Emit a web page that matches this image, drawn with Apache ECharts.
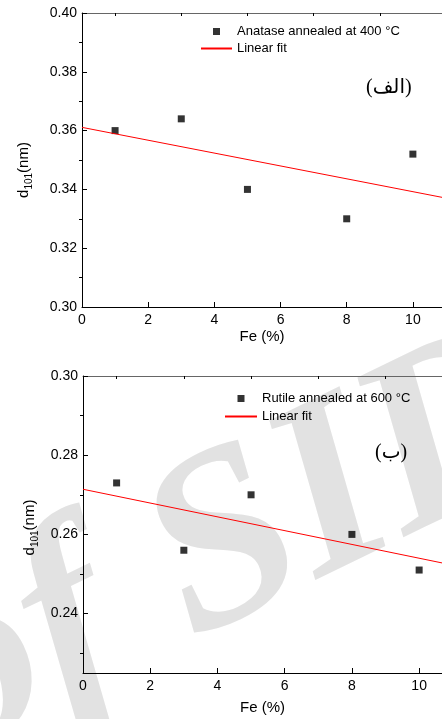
<!DOCTYPE html>
<html>
<head>
<meta charset="utf-8">
<script src="https://cdn.jsdelivr.net/npm/echarts@6/dist/echarts.min.js"></script>
<style>
html, body { margin: 0; padding: 0; background: #fff; }
#main { width: 442px; height: 719px; }
</style>
</head>
<body>
<div id="main"></div>
<script>
// ---- data ----
var fe = [1, 3, 5, 8, 10];
// (الف) anatase 400 °C
var anatase = [0.360, 0.364, 0.340, 0.330, 0.352];
var anataseFitX = [0, 10.88];
var anataseFitY = [0.3611, 0.3373];
// (ب) rutile 600 °C
var rutile = [0.273, 0.256, 0.270, 0.260, 0.251];
var rutileFitX = [0, 10.68];
var rutileFitY = [0.2714, 0.2528];

// ticks
var xMajor = [0, 2, 4, 6, 8, 10];
var xMinor = [1, 3, 5, 7, 9];
var y1Major = [0.30, 0.32, 0.34, 0.36, 0.38, 0.40];
var y1Minor = [0.31, 0.33, 0.35, 0.37, 0.39];
var y2Major = [0.24, 0.26, 0.28, 0.30];
var y2Minor = [0.23, 0.25, 0.27, 0.29];

var FONT = 'Liberation Sans, Arial, sans-serif';
var SQUARE = 'path://M0,0L10,0L10,10L0,10Z';

function pairs(xs, ys) {
    var out = [];
    for (var i = 0; i < xs.length; i++) out.push([xs[i], ys[i]]);
    return out;
}

function mainX(grid, max, gap) {
    return {
        gridIndex: grid, type: 'value', min: 0, max: max,
        axisLine: { lineStyle: { color: '#000', width: 1 } },
        axisTick: { inside: true, length: 5, customValues: xMajor, lineStyle: { color: '#000' } },
        axisLabel: { customValues: xMajor, margin: 6, fontSize: 14, color: '#000', fontFamily: FONT },
        splitLine: { show: false },
        name: 'Fe (%)', nameLocation: 'middle', nameGap: gap,
        nameTextStyle: { fontSize: 15, color: '#000', fontFamily: FONT }
    };
}
function minorX(grid, max) {
    return {
        gridIndex: grid, type: 'value', min: 0, max: max,
        axisLine: { show: false },
        axisTick: { inside: true, length: 3, customValues: xMinor, lineStyle: { color: '#000' } },
        axisLabel: { show: false }, splitLine: { show: false }
    };
}
function frameX(grid, max) {
    return {
        gridIndex: grid, type: 'value', min: 0, max: max, position: 'top',
        axisLine: { lineStyle: { color: '#666', width: 1 } },
        axisTick: { show: false }, axisLabel: { show: false }, splitLine: { show: false }
    };
}
function mainY(grid, min, max, major, gap, shift) {
    return {
        gridIndex: grid, type: 'value', min: min, max: max,
        axisLine: { lineStyle: { color: '#000', width: 1 } },
        axisTick: { inside: true, length: 5, customValues: major, lineStyle: { color: '#000' } },
        axisLabel: {
            customValues: major, margin: 5, fontSize: 14, color: '#000', fontFamily: FONT,
            formatter: function (v) { return v.toFixed(2); }
        },
        splitLine: { show: false },
        name: '{d|d}{s|101}{d|(nm)}', nameLocation: 'middle', nameGap: gap,
        nameTextStyle: {
            color: '#000', fontFamily: FONT, padding: [0, shift, 0, 0],
            rich: {
                d: { fontSize: 15, lineHeight: 20, fontFamily: FONT, color: '#000' },
                s: { fontSize: 10, lineHeight: 20, verticalAlign: 'bottom', fontFamily: FONT, color: '#000', padding: [8, 0, 0, 0] }
            }
        }
    };
}
function minorY(grid, min, max, minor) {
    return {
        gridIndex: grid, type: 'value', min: min, max: max,
        axisLine: { show: false },
        axisTick: { inside: true, length: 3, customValues: minor, lineStyle: { color: '#000' } },
        axisLabel: { show: false }, splitLine: { show: false }
    };
}

var chart = echarts.init(document.getElementById('main'));
var option = {
    backgroundColor: '#fff',
    animation: false,
    grid: [
        { left: 82, top: 13, width: 360, height: 294 },
        { left: 83, top: 376, width: 359, height: 297 }
    ],
    xAxis: [
        mainX(0, 10.88, 22), minorX(0, 10.88), frameX(0, 10.88),
        mainX(1, 10.68, 27), minorX(1, 10.68), frameX(1, 10.68)
    ],
    yAxis: [
        mainY(0, 0.30, 0.40, y1Major, 48, 20), minorY(0, 0.30, 0.40, y1Minor),
        mainY(1, 0.225, 0.30, y2Major, 43, 6), minorY(1, 0.225, 0.30, y2Minor)
    ],
    legend: [
        {
            orient: 'vertical', left: 200, top: 25, itemGap: 4, padding: 0,
            itemWidth: 31, itemHeight: 7, itemTextGap: 5, symbolKeepAspect: true,
            textStyle: { fontSize: 13, color: '#000', fontFamily: FONT },
            data: [
                { name: 'Anatase annealed at 400 °C', icon: SQUARE },
                { name: 'Linear fit', itemStyle: { opacity: 0 } }
            ]
        },
        {
            orient: 'vertical', left: 224, top: 392, itemGap: 5, padding: 0,
            itemWidth: 32, itemHeight: 7, itemTextGap: 4, symbolKeepAspect: true,
            textStyle: { fontSize: 13, color: '#000', fontFamily: FONT },
            data: [
                { name: 'Rutile annealed at 600 °C', icon: SQUARE },
                { name: 'Linear fit', itemStyle: { opacity: 0 } }
            ]
        }
    ],
    graphic: [
        // faint watermark of the source scan
        {
            type: 'text', x: 230, y: 550, rotation: 26 * Math.PI / 180, z: -10, silent: true,
            style: {
                text: 'of SID', fill: '#e2e2e2', textAlign: 'center', textVerticalAlign: 'middle',
                font: 'italic bold 250px "Liberation Serif", serif'
            }
        },
        { type: 'text', left: 366, top: 78, style: { text: '(الف)', fill: '#000', font: '20px "Liberation Serif", "DejaVu Sans", serif' } },
        { type: 'text', left: 375, top: 443, style: { text: '(ب)', fill: '#000', font: '20px "Liberation Serif", "DejaVu Sans", serif' } }
    ],
    series: [
        {
            name: 'Anatase annealed at 400 °C', type: 'scatter', xAxisIndex: 0, yAxisIndex: 0,
            symbol: 'rect', symbolSize: 7, itemStyle: { color: '#000' },
            data: pairs(fe, anatase)
        },
        {
            name: 'Linear fit', type: 'line', xAxisIndex: 0, yAxisIndex: 0,
            symbol: 'none', lineStyle: { color: '#ff0000', width: 1 }, itemStyle: { color: '#ff0000' },
            data: pairs(anataseFitX, anataseFitY)
        },
        {
            name: 'Rutile annealed at 600 °C', type: 'scatter', xAxisIndex: 3, yAxisIndex: 2,
            symbol: 'rect', symbolSize: 7, itemStyle: { color: '#000' },
            data: pairs(fe, rutile)
        },
        {
            name: 'Linear fit', type: 'line', xAxisIndex: 3, yAxisIndex: 2,
            symbol: 'none', lineStyle: { color: '#ff0000', width: 1 }, itemStyle: { color: '#ff0000' },
            data: pairs(rutileFitX, rutileFitY)
        }
    ]
};
chart.setOption(option);
</script>
</body>
</html>
